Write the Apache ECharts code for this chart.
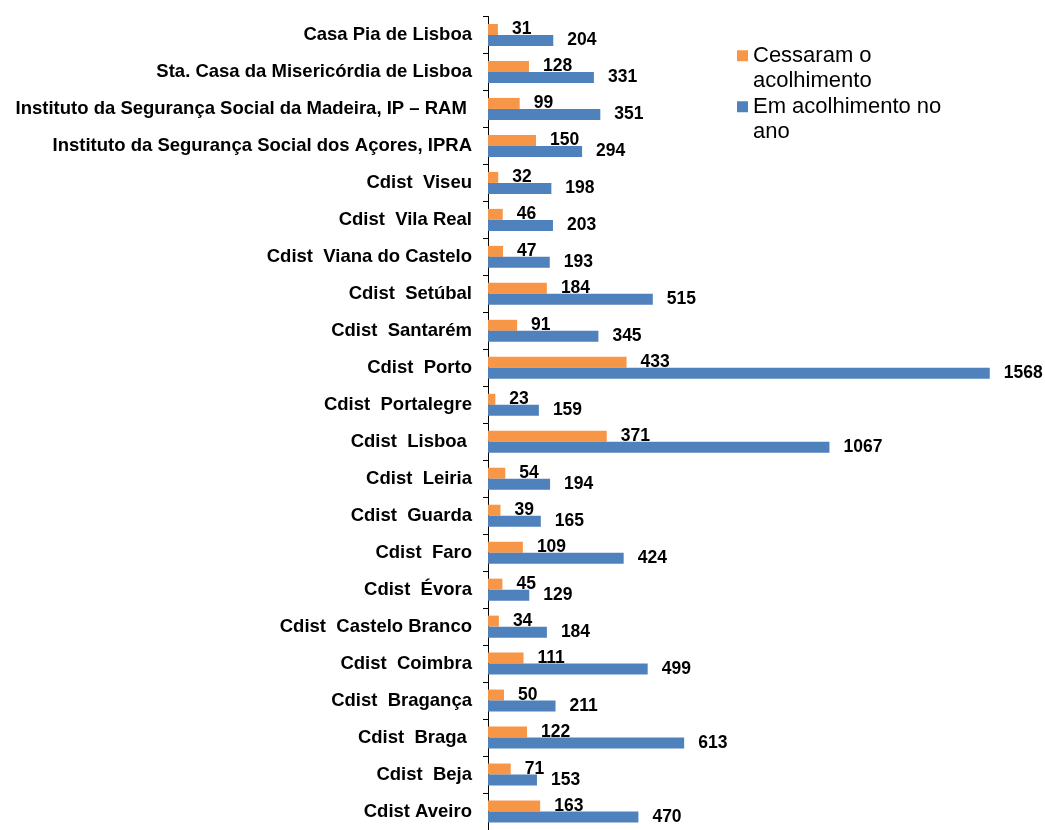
<!DOCTYPE html>
<html>
<head>
<meta charset="utf-8">
<script src="https://cdn.jsdelivr.net/npm/echarts@6/dist/echarts.min.js"></script>
<style>
  html, body { margin: 0; padding: 0; background: #fff; }
  #grafico { width: 1045px; height: 830px; }
</style>
</head>
<body>
<div id="grafico"></div>
<script>
// categorias de cima para baixo
var categorias = [
    'Casa Pia de Lisboa',
    'Sta. Casa da Misericórdia de Lisboa',
    'Instituto da Segurança Social da Madeira, IP – RAM ',
    'Instituto da Segurança Social dos Açores, IPRA',
    'Cdist  Viseu',
    'Cdist  Vila Real',
    'Cdist  Viana do Castelo',
    'Cdist  Setúbal',
    'Cdist  Santarém',
    'Cdist  Porto',
    'Cdist  Portalegre',
    'Cdist  Lisboa ',
    'Cdist  Leiria',
    'Cdist  Guarda',
    'Cdist  Faro',
    'Cdist  Évora',
    'Cdist  Castelo Branco',
    'Cdist  Coimbra',
    'Cdist  Bragança',
    'Cdist  Braga ',
    'Cdist  Beja',
    'Cdist Aveiro'
];

var cessaram = [31, 128, 99, 150, 32, 46, 47, 184, 91, 433, 23, 371, 54, 39, 109, 45, 34, 111, 50, 122, 71, 163];
var emAcolhimento = [204, 331, 351, 294, 198, 203, 193, 515, 345, 1568, 159, 1067, 194, 165, 424, 129, 184, 499, 211, 613, 153, 470];

var nomes = ['Cessaram o acolhimento', 'Em acolhimento no ano'];
// linha vazia no inicio para o quadrado ficar alinhado com a primeira linha
var quebras = {
    'Cessaram o acolhimento': '\nCessaram o\nacolhimento',
    'Em acolhimento no ano': '\nEm acolhimento no\nano'
};

var fonte = 'Arial, "Liberation Sans", sans-serif';

function legenda(nome, topo) {
    return {
        data: [nome],
        orient: 'vertical',
        left: 737,
        top: topo,
        padding: 0,
        itemWidth: 11,
        itemHeight: 11,
        itemGap: 5,
        icon: 'rect',
        formatter: function (n) { return quebras[n]; },
        textStyle: {
            fontFamily: fonte,
            fontSize: 22,
            lineHeight: 25.5,
            color: '#000'
        }
    };
}

var myChart = echarts.init(document.getElementById('grafico'));

var rotulo = {
    show: true,
    position: 'right',
    distance: 14,
    offset: [0, 0],
    fontFamily: fonte,
    fontSize: 17.5,
    fontWeight: 'bold',
    color: '#000'
};

var option = {
    animation: false,
    backgroundColor: '#fff',
    legend: [legenda(nomes[0], 17.5), legenda(nomes[1], 68.5)],
    grid: {
        left: 488,
        top: 16.5,
        width: 512,
        height: 817
    },
    xAxis: {
        type: 'value',
        min: 0,
        max: 1600,
        show: false
    },
    yAxis: {
        type: 'category',
        inverse: true,
        data: categorias,
        axisLine: { lineStyle: { color: '#000', width: 1 } },
        axisTick: { show: true, length: 5, lineStyle: { color: '#000' } },
        axisLabel: {
            margin: 16,
            fontFamily: fonte,
            fontSize: 18.5,
            fontWeight: 'bold',
            color: '#000'
        }
    },
    series: [
        {
            name: nomes[0],
            type: 'bar',
            data: cessaram,
            barWidth: 11,
            barGap: '0%',
            itemStyle: { color: '#F79646' },
            label: rotulo
        },
        {
            name: nomes[1],
            type: 'bar',
            data: emAcolhimento,
            barWidth: 11,
            barGap: '0%',
            itemStyle: { color: '#4F81BD' },
            label: rotulo
        }
    ]
};

myChart.setOption(option);
</script>
</body>
</html>
